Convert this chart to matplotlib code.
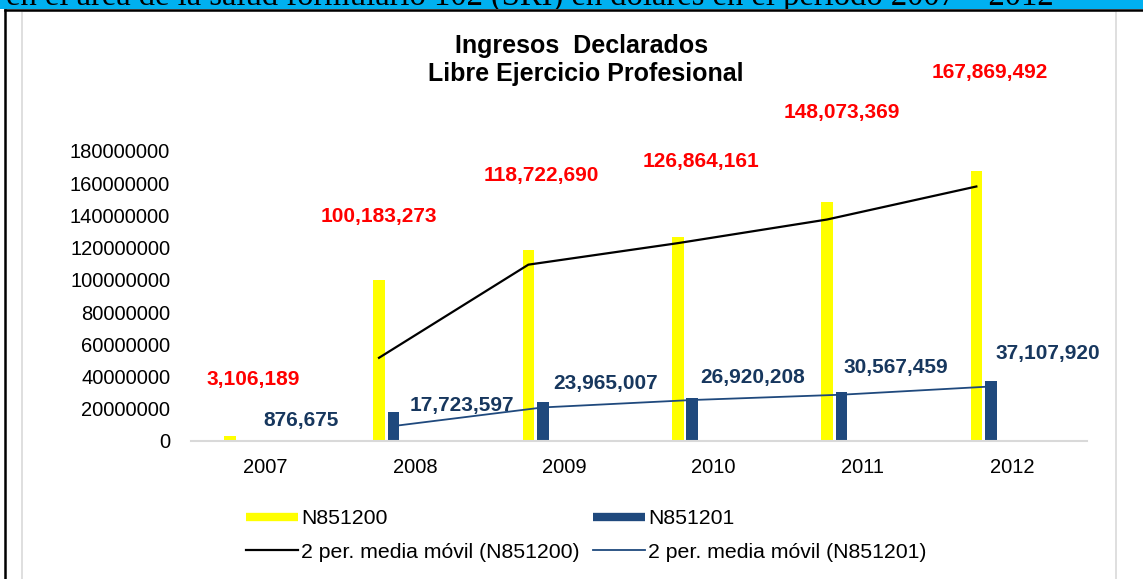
import matplotlib
matplotlib.use("Agg")
import matplotlib.pyplot as plt
from matplotlib.lines import Line2D
from matplotlib.patches import Rectangle
import numpy as np
import pandas as pd

# Data
years = ["2007", "2008", "2009", "2010", "2011", "2012"]
n851200 = [3106189, 100183273, 118722690, 126864161, 148073369, 167869492]
n851201 = [876675, 17723597, 23965007, 26920208, 30567459, 37107920]
y_ticks = [0, 20000000, 40000000, 60000000, 80000000, 100000000,
           120000000, 140000000, 160000000, 180000000]

# where the data labels were dragged to (category offset, y value)
red_label_dx = [-0.085, -0.241, -0.156, -0.085, -0.14, -0.149]
red_label_y = [37.9e6, 139.3e6, 164.5e6, 173.2e6, 204.2e6, 229.0e6]
blue_label_dx = [0.237, 0.315, 0.279, 0.258, 0.222, 0.24]
blue_label_y = [12.7e6, 22.0e6, 36.0e6, 39.7e6, 45.9e6, 54.0e6]

YELLOW = "#ffff00"
NAVY = "#1f497d"
LABEL_NAVY = "#17375e"
W, H = 1143, 579

plt.rcParams['font.family'] = ['Liberation Sans', 'DejaVu Sans']

fig = plt.figure(figsize=(W / 100, H / 100), dpi=100)

# page decoration: blue heading strip (cut off), black lines, chart frame
band = fig.add_axes([0, 1 - 9 / H, 1, 9 / H])
band.set_facecolor("#00b0f0")
for s in band.spines.values():
    s.set_visible(False)
band.set_xticks([])
band.set_yticks([])
band.set_xlim(0, W)
band.set_ylim(0, 9)
band.text(6, 4.5, "en el área de la salud formulario 102 (SRI) en dólares en el periodo 2007 – 2012",
          family="Liberation Serif", fontsize=23.5, va="baseline", ha="left", clip_on=True)
fig.add_artist(Line2D([5 / W, 1], [1 - 9.5 / H, 1 - 9.5 / H], transform=fig.transFigure,
                      color="black", lw=1.8))
fig.add_artist(Line2D([5 / W, 5 / W], [0, 1 - 9.5 / H], transform=fig.transFigure,
                      color="black", lw=1.8))
fig.patches.append(Rectangle((22 / W, -0.05), (1116 - 22) / W, 1.05 - 10.5 / H,
                             transform=fig.transFigure, facecolor="none",
                             edgecolor="#d9d9d9", lw=1.2))

ax = fig.add_axes([191 / W, 1 - 441 / H, 896 / W, 290 / H])
x = np.arange(len(years))
dx_yellow, dx_blue, bw = -0.241, -0.143, 0.078

ax.bar(x + dx_yellow, n851200, width=bw, color=YELLOW, zorder=2)
ax.bar(x + dx_blue, n851201, width=bw, color=NAVY, zorder=2)

ma_yellow = pd.Series(n851200).rolling(2).mean()
ma_blue = pd.Series(n851201).rolling(2).mean()
ax.plot(x[1:] + dx_yellow, ma_yellow[1:], color="black", lw=1.6, zorder=3)
ax.plot(x[1:] + dx_blue, ma_blue[1:], color=NAVY, lw=1.3, zorder=3)

for i in range(len(years)):
    ax.text(x[i] + red_label_dx[i], red_label_y[i], f"{n851200[i]:,}", color="#ff0000",
            fontsize=15, fontweight="bold", ha="center", va="center", clip_on=False)
    ax.text(x[i] + blue_label_dx[i], blue_label_y[i], f"{n851201[i]:,}", color=LABEL_NAVY,
            fontsize=15, fontweight="bold", ha="center", va="center", clip_on=False)

ax.set_xlim(-0.5, len(years) - 0.5)
ax.set_ylim(0, 180000000)
ax.set_xticks(x)
ax.set_xticklabels(years, fontsize=14.5)
ax.set_yticks(y_ticks)
ax.set_yticklabels([str(v) for v in y_ticks], fontsize=14.5)
ax.tick_params(axis="both", length=0)
ax.tick_params(axis="x", pad=12)
ax.tick_params(axis="y", pad=15)
for side in ["top", "right", "left"]:
    ax.spines[side].set_visible(False)
ax.spines["bottom"].set_color("#d9d9d9")
ax.spines["bottom"].set_linewidth(1.5)
ax.set_facecolor("none")

fig.text(582 / W, 1 - 46 / H, "Ingresos  Declarados", fontsize=18, fontweight="bold",
         ha="center", va="center")
fig.text(586 / W, 1 - 74 / H, "Libre Ejercicio Profesional", fontsize=18, fontweight="bold",
         ha="center", va="center")

handles = [
    Line2D([], [], color=YELLOW, lw=6, solid_capstyle="butt"),
    Line2D([], [], color="black", lw=1.6),
    Line2D([], [], color=NAVY, lw=6, solid_capstyle="butt"),
    Line2D([], [], color=NAVY, lw=1.3),
]
labels = ["N851200", "2 per. media móvil (N851200)", "N851201", "2 per. media móvil (N851201)"]
fig.legend(handles, labels, ncol=2, loc="upper left", bbox_to_anchor=(246 / W, 1 - 509 / H),
           frameon=False, fontsize=15.3, handlelength=2.45, handletextpad=0.15,
           columnspacing=0.6, labelspacing=0.7, borderpad=0, borderaxespad=0)

fig.savefig("out.png", dpi=100)
